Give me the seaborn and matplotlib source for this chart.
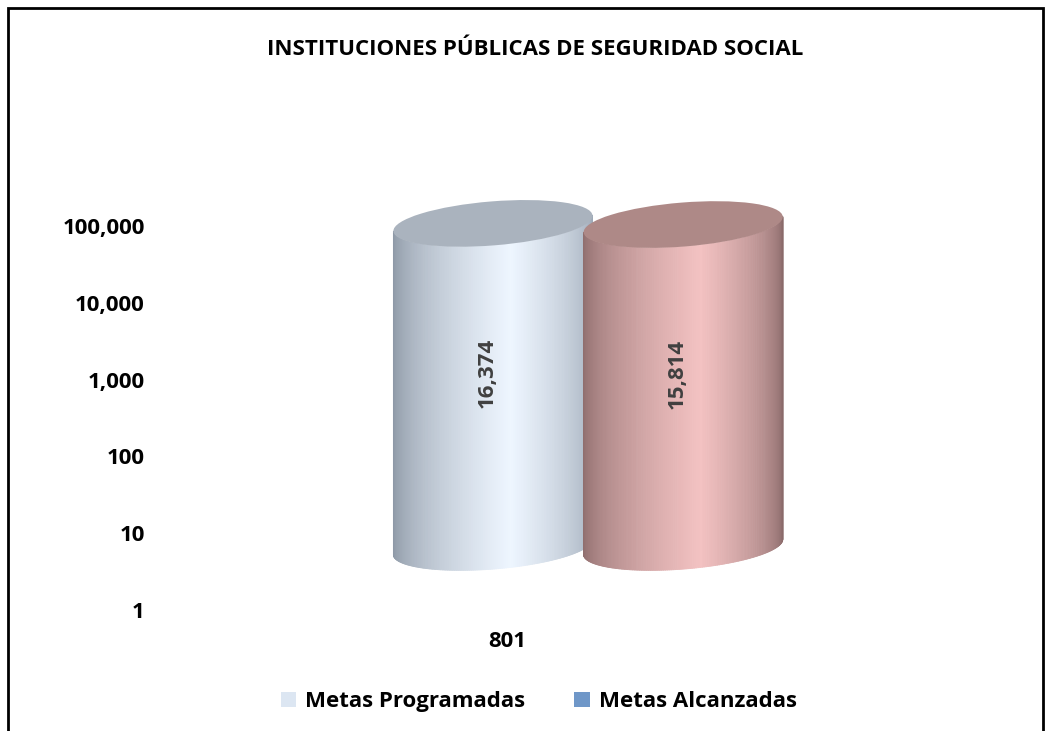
import numpy as np
import pandas as pd
import seaborn as sns
import matplotlib.pyplot as plt
from matplotlib.collections import PolyCollection
from matplotlib.patches import Ellipse, Rectangle
from matplotlib.transforms import IdentityTransform
from matplotlib.ticker import FuncFormatter, NullLocator
from matplotlib.colors import to_rgb

# Datos
codigos = ['801']
series = ['Metas Programadas', 'Metas Alcanzadas']
valores = [16374, 15814]
colores_leyenda = ['#dce6f2', '#6f97c8']
titulo = 'INSTITUCIONES PÚBLICAS DE SEGURIDAD SOCIAL'

df = pd.DataFrame({'codigo': codigos * len(series), 'serie': series, 'metas': valores})

# estilo de los cilindros (borde izq, luz, borde der, tapa)
estilos = [
    ('#8b96a4', '#eef6ff', '#9ea9b7', '#aab3be'),
    ('#8e6d6d', '#f3c2c2', '#8a6a6a', '#ae8987'),
]

sns.set_style('white')
plt.rcParams['font.family'] = ['Open Sans', 'DejaVu Sans']
plt.rcParams['font.weight'] = 'bold'
plt.rcParams['text.color'] = 'black'
plt.rcParams['xtick.color'] = 'black'
plt.rcParams['ytick.color'] = 'black'

fig = plt.figure(figsize=(10.52, 7.31), dpi=100)
ax = fig.add_axes([0.152, 0.1655, 0.66, 0.5253])

sns.barplot(data=df, x='codigo', y='metas', hue='serie', hue_order=series,
            palette=colores_leyenda, width=0.548, log_scale=True, legend=False, ax=ax)

ax.set_ylim(1, 1e5)
ax.set_xlim(-0.5, 0.5)
ax.set_yticks([1, 10, 100, 1000, 10000, 100000])
ax.yaxis.set_minor_locator(NullLocator())
ax.yaxis.set_major_formatter(FuncFormatter(lambda v, p: f'{v:,.0f}'))
ax.tick_params(axis='y', length=0, pad=11, labelsize=16)
ax.tick_params(axis='x', length=0, pad=15, labelsize=16)
for lbl in ax.get_xticklabels() + ax.get_yticklabels():
    lbl.set_fontweight('bold')
ax.set_xlabel('')
ax.set_ylabel('')
sns.despine(ax=ax, left=True, bottom=True)


def mezcla(c1, c2, w):
    a, b = np.array(to_rgb(c1)), np.array(to_rgb(c2))
    return tuple(a + (b - a) * w)


def cilindro(xc, ybot, ytop, r, b, ang, estilo, z):
    c_izq, c_luz, c_der, c_tapa = estilo
    ca, sa = np.cos(ang), np.sin(ang)

    def punto(t, yc):
        return (xc + r * np.cos(t) * ca - b * np.sin(t) * sa,
                yc + r * np.cos(t) * sa + b * np.sin(t) * ca)

    ts = np.linspace(np.pi, 2 * np.pi, 161)
    verts, cols = [], []
    for t0, t1 in zip(ts[:-1], ts[1:]):
        verts.append([punto(t0, ybot), punto(t1, ybot), punto(t1, ytop), punto(t0, ytop)])
        s = (np.cos((t0 + t1) / 2) + 1) / 2
        if s < 0.58:
            cols.append(mezcla(c_izq, c_luz, (s / 0.58) ** 0.6))
        else:
            cols.append(mezcla(c_der, c_luz, ((1 - s) / 0.42) ** 0.6))
    pc = PolyCollection(verts, facecolors=cols, edgecolors=cols, linewidths=0.6,
                        transform=IdentityTransform(), zorder=z, clip_on=False)
    ax.add_collection(pc, autolim=False)
    tapa = Ellipse((xc, ytop), 2 * r, 2 * b, angle=np.degrees(ang), facecolor=c_tapa,
                   edgecolor='none', transform=IdentityTransform(), zorder=z + 0.1, clip_on=False)
    ax.add_patch(tapa)


# efecto de profundidad 3D (pixeles)
dx, dy = 81, 63
for i, (p, v) in enumerate(zip(ax.patches, valores)):
    p.set_visible(False)
    x0, w = p.get_x(), p.get_width()
    xc, ytop = ax.transData.transform((x0 + w / 2, v))
    xl = ax.transData.transform((x0, v))[0]
    ybot = ax.transData.transform((0, ax.get_ylim()[0]))[1]
    r = (xc - xl) * 1.05
    cilindro(xc + dx, ybot + dy, ytop + dy, r, 22, np.radians(4.6), estilos[i], 2 + i)
    ax.text(xc + dx - 6, (ytop + ybot) / 2 + dy + 12, f'{v:,.0f}', rotation=90,
            ha='center', va='center', fontsize=16, fontweight='bold', color='#404040',
            transform=IdentityTransform(), zorder=5, clip_on=False)

handles = [Rectangle((0, 0), 1, 1, facecolor=c, edgecolor='none') for c in colores_leyenda]
fig.legend(handles, series, loc='center', bbox_to_anchor=(0.512, 0.04), ncol=2,
           frameon=False, prop={'size': 16, 'weight': 'bold'}, handlelength=0.7,
           handleheight=0.7, handletextpad=0.4, columnspacing=2.2)

fig.text(0.509, 0.932, titulo, ha='center', va='center', fontsize=16, fontweight='bold')

fig.add_artist(Rectangle((8 / 1052, -0.02), (1043 - 8) / 1052, (723 / 731) + 0.02,
                         transform=fig.transFigure, fill=False, edgecolor='black', lw=2))

fig.savefig('out.png', dpi=100)
